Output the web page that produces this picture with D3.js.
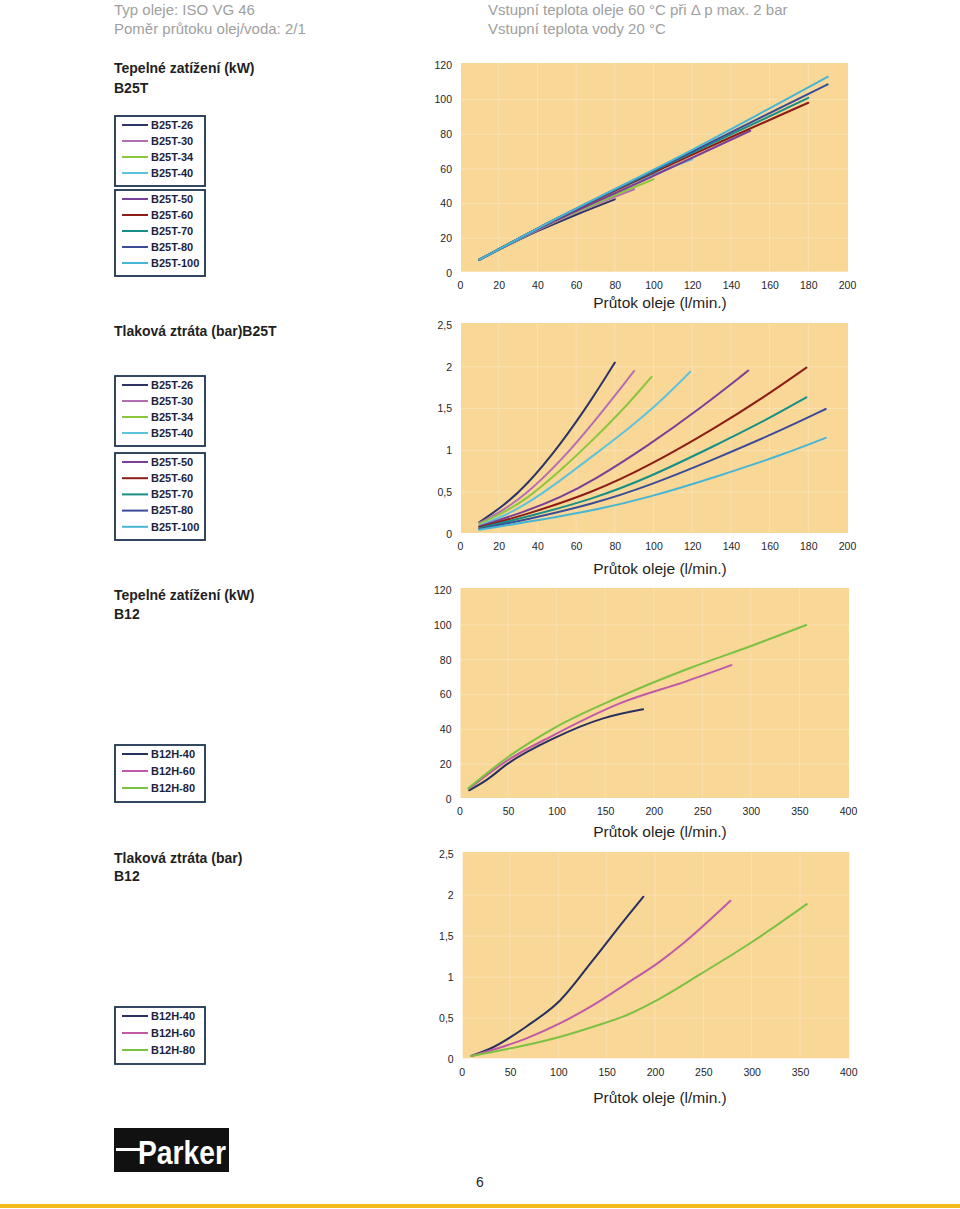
<!DOCTYPE html>
<html>
<head>
<meta charset="utf-8">
<script src="https://cdn.jsdelivr.net/npm/d3@7"></script>
<style>
  html, body { margin: 0; padding: 0; background: #fff; }
  svg { display: block; font-family: "Liberation Sans", Arial, sans-serif; }
</style>
</head>
<body>
<svg id="page" width="960" height="1209"></svg>
<script>
// ---------------- DATA ----------------
const b25tNames = ["B25T-26", "B25T-30", "B25T-34", "B25T-40", "B25T-50", "B25T-60", "B25T-70", "B25T-80", "B25T-100"];
const b12Names = ["B12H-40", "B12H-60", "B12H-80"];

const xTicksB25T = [0, 20, 40, 60, 80, 100, 120, 140, 160, 180, 200];
const xTicksB12 = [0, 50, 100, 150, 200, 250, 300, 350, 400];
const yTicksHeat = [0, 20, 40, 60, 80, 100, 120];
const yTicksPressure = [0, 0.5, 1, 1.5, 2, 2.5];
const yTickLabelsPressure = ["0", "0,5", "1", "1,5", "2", "2,5"];

// Tepelné zatížení (kW) B25T : [flow l/min, kW]
const b25tHeat = [
  [[10, 7.5], [40, 24], [60, 33.5], [80, 42.4]],
  [[10, 7.5], [40, 24.5], [65, 37], [90, 48.2]],
  [[10, 7.5], [40, 25], [70, 40], [100, 54]],
  [[10, 7.5], [40, 25], [80, 47.5], [120, 65.5]],
  [[10, 7.5], [40, 25], [100, 56], [150, 82]],
  [[10, 7.5], [40, 25.5], [110, 63], [180, 98.2]],
  [[10, 7.5], [40, 25.5], [110, 64], [180, 101]],
  [[10, 7.5], [40, 25.5], [120, 70], [190, 108.8]],
  [[10, 7.5], [40, 25.5], [120, 71], [190, 113.2]]
];

// Tlaková ztráta (bar) B25T : [flow l/min, bar]
const b25tPressure = [
  [[10, 0.14], [22, 0.33], [34, 0.57], [52, 1.07], [69, 1.64], [80, 2.05]],
  [[10, 0.13], [22, 0.28], [34, 0.47], [52, 0.87], [69, 1.33], [90, 1.95]],
  [[10, 0.12], [22, 0.25], [34, 0.41], [52, 0.76], [69, 1.13], [86, 1.53], [99, 1.88]],
  [[10, 0.1], [22, 0.21], [34, 0.35], [52, 0.64], [69, 0.94], [86, 1.24], [103, 1.57], [119, 1.94]],
  [[10, 0.09], [34, 0.27], [52, 0.44], [69, 0.64], [98, 1.07], [124, 1.5], [149, 1.955]],
  [[10, 0.08], [34, 0.23], [69, 0.5], [98, 0.82], [132, 1.27], [158, 1.65], [179, 1.99]],
  [[10, 0.07], [34, 0.2], [69, 0.42], [98, 0.68], [132, 1.06], [158, 1.36], [179, 1.635]],
  [[10, 0.06], [34, 0.17], [69, 0.36], [98, 0.58], [132, 0.9], [167, 1.25], [189, 1.495]],
  [[10, 0.05], [34, 0.14], [69, 0.28], [98, 0.44], [132, 0.68], [167, 0.95], [189, 1.15]]
];

// Tepelné zatížení (kW) B12
const b12Heat = [
  [[10, 5], [28, 11], [49, 20], [97, 34.8], [148, 46.3], [189, 51.5]],
  [[10, 6], [49, 22], [97, 36.7], [165, 54.9], [234, 67.7], [280, 76.9]],
  [[9, 6.1], [49, 23.7], [97, 40.6], [165, 58.7], [234, 74.5], [303, 88.4], [357, 99.9]]
];

// Tlaková ztráta (bar) B12
const b12Pressure = [
  [[10, 0.04], [33, 0.15], [67, 0.4], [102, 0.72], [136, 1.21], [171, 1.735], [188, 1.98]],
  [[10, 0.04], [67, 0.255], [102, 0.44], [136, 0.66], [171, 0.925], [205, 1.19], [229, 1.41], [278, 1.93]],
  [[10, 0.04], [33, 0.093], [67, 0.174], [102, 0.275], [136, 0.397], [171, 0.54], [205, 0.74], [246, 1.03], [298, 1.41], [357, 1.89]]
];

// ---------------- STYLE ----------------
const b25tColors = ["#2c3566", "#b46fb4", "#8cc63f", "#5fc2dc", "#7a3f96", "#8b1d16", "#178f86", "#3a4c98", "#47b6d4"];
const b12Colors = ["#283060", "#c05aa8", "#7cc242"];
const plotBg = "#f9d797";
const textDark = "#1f1f1f";

const svg = d3.select("#page");

// header
const header = svg.append("g").attr("fill", "#a0a0a0").attr("font-size", 15);
header.append("text").attr("x", 114).attr("y", 15).text("Typ oleje: ISO VG 46");
header.append("text").attr("x", 114).attr("y", 34).text("Poměr průtoku olej/voda: 2/1");
header.append("text").attr("x", 488).attr("y", 15).text("Vstupní teplota oleje 60 °C při Δ p max. 2 bar");
header.append("text").attr("x", 488).attr("y", 34).text("Vstupní teplota vody 20 °C");

// section labels
function label(lines, x, y, lh) {
  const g = svg.append("g").attr("fill", textDark).attr("font-size", 14).attr("font-weight", "bold");
  lines.forEach((t, i) => g.append("text").attr("x", x).attr("y", y + i * lh).text(t));
}
label(["Tepelné zatížení (kW)", "B25T"], 114, 73, 20);
label(["Tlaková ztráta (bar)B25T"], 114, 336, 20);
label(["Tepelné zatížení (kW)", "B12"], 114, 600, 19);
label(["Tlaková ztráta (bar)", "B12"], 114, 863, 18);

// legends
function legend(names, colors, x, y, rowH) {
  const h = names.length * rowH + 6;
  const g = svg.append("g");
  g.append("rect").attr("x", x).attr("y", y).attr("width", 90).attr("height", h)
    .attr("fill", "#fff").attr("stroke", "#1e3450").attr("stroke-width", 1.8);
  names.forEach((n, i) => {
    const cy = y + 9 + i * rowH;
    g.append("line").attr("x1", x + 7).attr("x2", x + 33).attr("y1", cy).attr("y2", cy)
      .attr("stroke", colors[i]).attr("stroke-width", 2);
    g.append("text").attr("x", x + 36).attr("y", cy).attr("dy", "0.35em")
      .attr("font-size", 11).attr("font-weight", "bold").attr("fill", "#1c2340").text(n);
  });
}
legend(b25tNames.slice(0, 4), b25tColors.slice(0, 4), 115, 116, 16);
legend(b25tNames.slice(4), b25tColors.slice(4), 115, 190, 16);
legend(b25tNames.slice(0, 4), b25tColors.slice(0, 4), 115, 376, 16);
legend(b25tNames.slice(4), b25tColors.slice(4), 115, 453, 16.2);
legend(b12Names, b12Colors, 115, 745, 17);
legend(b12Names, b12Colors, 115, 1007, 17);

// charts
function chart(cfg) {
  const x = d3.scaleLinear().domain([0, cfg.xMax]).range(cfg.xr);
  const y = d3.scaleLinear().domain([0, cfg.yMax]).range(cfg.yr);
  const g = svg.append("g");
  g.append("rect")
    .attr("x", x(0) + 1).attr("y", y(cfg.yMax) - 2)
    .attr("width", x(cfg.xMax) - x(0)).attr("height", y(0) - y(cfg.yMax) + 1)
    .attr("fill", plotBg);
  // faint grid
  g.append("g").selectAll("line").data(cfg.xTicks.slice(1, -1)).join("line")
    .attr("x1", d => x(d)).attr("x2", d => x(d)).attr("y1", y(cfg.yMax) - 2).attr("y2", y(0))
    .attr("stroke", "#fff").attr("stroke-opacity", 0.25);
  g.append("g").selectAll("line").data(cfg.yTicks.slice(1, -1)).join("line")
    .attr("x1", x(0) + 1).attr("x2", x(cfg.xMax) + 1).attr("y1", d => y(d)).attr("y2", d => y(d))
    .attr("stroke", "#fff").attr("stroke-opacity", 0.25);

  const line = d3.line().x(d => x(d[0])).y(d => y(d[1])).curve(cfg.curve || d3.curveMonotoneX);
  g.append("g").selectAll("path").data(cfg.series).join("path")
    .attr("d", line).attr("fill", "none")
    .attr("stroke", (d, i) => cfg.colors[i]).attr("stroke-width", 2).attr("stroke-linecap", "round");

  const xa = g.append("g").attr("transform", `translate(0,${y(0)})`)
    .call(d3.axisBottom(x).tickValues(cfg.xTicks).tickSize(0).tickPadding(9).tickFormat(d3.format("d")));
  const ya = g.append("g").attr("transform", `translate(${x(0)},0)`)
    .call(d3.axisLeft(y).tickValues(cfg.yTicks).tickSize(0).tickPadding(8)
      .tickFormat((d, i) => cfg.yLabels ? cfg.yLabels[i] : d));
  [xa, ya].forEach(a => {
    a.select(".domain").remove();
    a.selectAll("text").attr("font-size", 10.5).attr("fill", textDark)
      .attr("font-family", "'Liberation Sans', Arial, sans-serif");
  });

  g.append("text").attr("x", 660).attr("y", cfg.titleY).attr("text-anchor", "middle")
    .attr("font-size", 15.5).attr("fill", textDark).text("Průtok oleje (l/min.)");
}

chart({ xMax: 200, yMax: 120, xr: [460, 847], yr: [272.7, 65], xTicks: xTicksB25T, yTicks: yTicksHeat,
  series: b25tHeat, colors: b25tColors, titleY: 308 });
chart({ xMax: 200, yMax: 2.5, xr: [460, 847], yr: [534, 325], xTicks: xTicksB25T, yTicks: yTicksPressure,
  yLabels: yTickLabelsPressure, series: b25tPressure, colors: b25tColors, titleY: 574, curve: d3.curveBasis });
chart({ xMax: 400, yMax: 120, xr: [459.5, 848], yr: [799, 590], xTicks: xTicksB12, yTicks: yTicksHeat,
  series: b12Heat, colors: b12Colors, titleY: 837 });
chart({ xMax: 400, yMax: 2.5, xr: [461.7, 848.3], yr: [1059.3, 854], xTicks: xTicksB12, yTicks: yTicksPressure,
  yLabels: yTickLabelsPressure, series: b12Pressure, colors: b12Colors, titleY: 1103 });

// footer: Parker logo, page number, yellow rule
const logo = svg.append("g");
logo.append("rect").attr("x", 114).attr("y", 1128).attr("width", 115).attr("height", 44).attr("fill", "#111");
logo.append("rect").attr("x", 116).attr("y", 1148).attr("width", 26).attr("height", 3).attr("fill", "#fff");
logo.append("text").attr("x", 138).attr("y", 1164).attr("fill", "#fff")
  .attr("font-family", "'Liberation Sans Narrow', 'Liberation Sans', Arial, sans-serif")
  .attr("font-weight", "bold").attr("font-size", 33)
  .attr("textLength", 88).attr("lengthAdjust", "spacingAndGlyphs").text("Parker");
svg.append("text").attr("x", 480).attr("y", 1187).attr("text-anchor", "middle")
  .attr("font-size", 14).attr("fill", textDark).text("6");
svg.append("rect").attr("x", 0).attr("y", 1204).attr("width", 960).attr("height", 4).attr("fill", "#f3ba1c");
</script>
</body>
</html>
